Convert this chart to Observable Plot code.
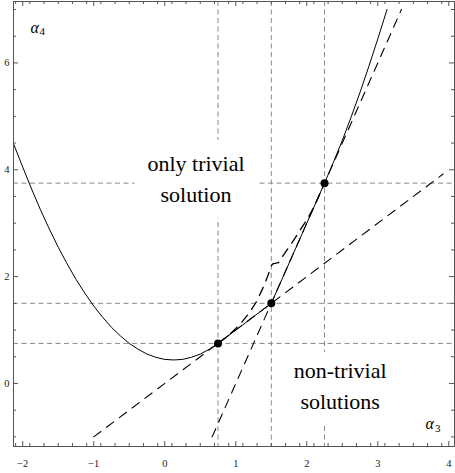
<!DOCTYPE html>
<html><head><meta charset="utf-8">
<script src="https://cdn.jsdelivr.net/npm/d3@7"></script>
<script src="https://cdn.jsdelivr.net/npm/@observablehq/plot@0.6"></script>
<style>body{margin:0;background:#fff} #chart svg{display:block}</style>
</head><body><div id="chart"></div>
<script>
// ---- data ----
const xDomain = [-2.13, 4.08];
const yDomain = [-1.18, 7.15];

// solid boundary curve (α3, α4)
const solidX = [-2.13,-2.0,-1.875,-1.75,-1.625,-1.5,-1.375,-1.25,-1.125,-1.0,-0.875,-0.75,-0.625,-0.5,-0.375,-0.25,-0.125,0,0.125,0.25,0.375,0.5,0.625,0.75,1.5,2.25,2.375,2.5,2.625,2.75,2.875,3.0,3.13];
const solidY = [4.49,4.05,3.64,3.25,2.89,2.55,2.24,1.95,1.69,1.45,1.24,1.05,0.89,0.75,0.64,0.55,0.49,0.45,0.44,0.45,0.49,0.55,0.64,0.75,1.5,3.75,4.14,4.55,4.99,5.45,5.94,6.45,7.0];

// dashed curve between the first and the last point
const dashCurveX = [0.75,0.9,1.0,1.1,1.2,1.3,1.4,1.45,1.5,1.52,1.6,1.7,1.8,1.9,2.0,2.1,2.25];
const dashCurveY = [0.75,0.9,1.03,1.17,1.34,1.55,1.84,2.01,2.2,2.24,2.26,2.46,2.65,2.86,3.06,3.3,3.75];

// dashed straight lines
const lineAX = [-1.0, 3.92], lineAY = [-1.0, 3.92];
const lineBX = [0.667, 3.333], lineBY = [-1.0, 7.0];

// marked points
const ptX = [0.75, 1.5, 2.25];
const ptY = [0.75, 1.5, 3.75];

// gray dashed guide lines
const gridX = [0.75, 1.5, 2.25];
const gridY = [0.75, 1.5, 3.75];

// ticks
const xMajor = [-2,-1,0,1,2,3,4];
const xMinor = d3.range(-21,41,2).map(d=>d/10).filter(d=>d>=-2.1 && d<=4.05 && Math.abs(d-Math.round(d))>1e-9);
const yMajor = [0,2,4,6];
const yMinor = [-1,-0.5,0.5,1,1.5,2.5,3,3.5,4.5,5,5.5,6.5,7];

// region labels
const regionText = ["only trivial\nsolution", "non-trivial\nsolutions"];
const regionX = [0.44, 2.47];
const regionY = [3.875, 0.0];

// ---- layout ----
const W = 455, H = 473, mL = 13, mR = 1, mT = 1, mB = 27;
const kx = (W - mL - mR) / (xDomain[1] - xDomain[0]);
const ky = (H - mT - mB) / (yDomain[1] - yDomain[0]);
const serif = "'Liberation Serif', 'Times New Roman', serif";

const solid = solidX.map((x,i)=>({x, y: solidY[i]}));
const dashCurve = dashCurveX.map((x,i)=>({x, y: dashCurveY[i]}));
const lineA = lineAX.map((x,i)=>({x, y: lineAY[i]}));
const lineB = lineBX.map((x,i)=>({x, y: lineBY[i]}));
const pts = ptX.map((x,i)=>({x, y: ptY[i]}));
const regions = regionText.map((t,i)=>({t, x: regionX[i], y: regionY[i]}));

const fmt = d => d < 0 ? "\u2212" + Math.abs(d) : String(d);
const tickColor = "#555";
const majL = 5, minL = 3;

const tickMarks = [];
for (const [arr, L] of [[xMajor, majL], [xMinor, minL]]) {
  tickMarks.push(Plot.ruleX(arr, {x: d=>d, y1: yDomain[0], y2: yDomain[0] + L/ky, stroke: tickColor}));
  tickMarks.push(Plot.ruleX(arr, {x: d=>d, y1: yDomain[1] - L/ky, y2: yDomain[1], stroke: tickColor}));
}
for (const [arr, L] of [[yMajor, majL], [yMinor, minL]]) {
  tickMarks.push(Plot.ruleY(arr, {y: d=>d, x1: xDomain[0], x2: xDomain[0] + L/kx, stroke: tickColor}));
  tickMarks.push(Plot.ruleY(arr, {y: d=>d, x1: xDomain[1] - L/kx, x2: xDomain[1], stroke: tickColor}));
}

const chart = Plot.plot({
  width: W, height: H,
  marginLeft: mL, marginRight: mR, marginTop: mT, marginBottom: mB,
  x: {domain: xDomain, axis: null},
  y: {domain: yDomain, axis: null},
  style: {background: "white", overflow: "visible", fontFamily: serif},
  marks: [
    Plot.ruleX(gridX, {x: d=>d, stroke: "#8a8a8a", strokeWidth: 1, strokeDasharray: "5,3.5"}),
    Plot.ruleY(gridY, {y: d=>d, stroke: "#8a8a8a", strokeWidth: 1, strokeDasharray: "5,3.5"}),
    Plot.rect([regions[0]], {x1: "x", x2: "x", y1: "y", y2: "y", fill: "white",
      insetLeft: -61, insetRight: -61, insetTop: -36, insetBottom: -42}),
    Plot.rect([regions[1]], {x1: "x", x2: "x", y1: "y", y2: "y", fill: "white",
      insetLeft: -61, insetRight: -61, insetTop: -31, insetBottom: -42}),
    Plot.line(lineA, {x: "x", y: "y", stroke: "black", strokeWidth: 1.1, strokeDasharray: "9,7"}),
    Plot.line(lineB, {x: "x", y: "y", stroke: "black", strokeWidth: 1.1, strokeDasharray: "9,7"}),
    Plot.line(dashCurve, {x: "x", y: "y", stroke: "black", strokeWidth: 1.3, strokeDasharray: "9,7"}),
    Plot.line(solid, {x: "x", y: "y", stroke: "black", strokeWidth: 1}),
    Plot.dot(pts, {x: "x", y: "y", r: 4, fill: "black"}),
    Plot.text(regions, {x: "x", y: "y", text: "t", fontSize: 22, fontFamily: serif, lineHeight: 1.4, lineAnchor: "middle", fill: "black"}),
    Plot.frame({stroke: tickColor, strokeWidth: 1}),
    ...tickMarks,
    Plot.text(xMajor, {x: d=>d, frameAnchor: "bottom", dy: 17, text: fmt, fontSize: 10.5, fontFamily: serif, lineAnchor: "middle", fill: "#222"}),
    Plot.text(yMajor, {y: d=>d, frameAnchor: "left", dx: -4, text: fmt, textAnchor: "end", fontSize: 10.5, fontFamily: serif, lineAnchor: "middle", fill: "#222"}),
    Plot.text(["α"], {frameAnchor: "top-left", dx: 17, dy: 31, text: d=>d, textAnchor: "start", lineAnchor: "bottom", fontSize: 16, fontStyle: "italic", fontFamily: serif, fill: "black"}),
    Plot.text(["4"], {frameAnchor: "top-left", dx: 26, dy: 33, text: d=>d, textAnchor: "start", lineAnchor: "bottom", fontSize: 11, fontFamily: serif, fill: "black"}),
    Plot.text(["α"], {frameAnchor: "bottom-right", dx: -29, dy: -18, text: d=>d, textAnchor: "start", lineAnchor: "bottom", fontSize: 16, fontStyle: "italic", fontFamily: serif, fill: "black"}),
    Plot.text(["3"], {frameAnchor: "bottom-right", dx: -19.5, dy: -15, text: d=>d, textAnchor: "start", lineAnchor: "bottom", fontSize: 11, fontFamily: serif, fill: "black"})
  ]
});
document.getElementById("chart").appendChild(chart);
</script>
</body></html>
